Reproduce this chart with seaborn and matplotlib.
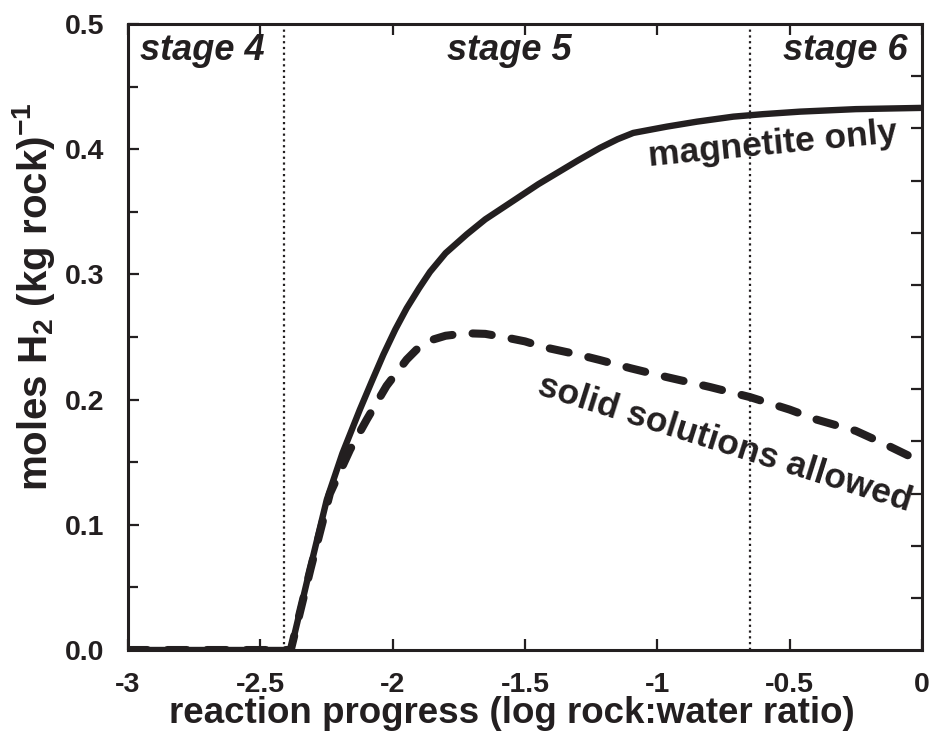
import matplotlib
matplotlib.use("Agg")
import matplotlib.pyplot as plt
import seaborn as sns
import pandas as pd
import numpy as np

# ---- data ----
x_magnetite = [-3.0, -2.385, -2.32, -2.249, -2.19, -2.124, -2.08, -2.035, -1.99, -1.947,
               -1.9, -1.859, -1.8, -1.72, -1.65, -1.557, -1.45, -1.3, -1.217, -1.15,
               -1.091, -0.965, -0.85, -0.713, -0.6, -0.461, -0.25, 0.0]
y_magnetite = [0.0, 0.0, 0.058, 0.120, 0.157, 0.192, 0.214, 0.236, 0.256, 0.273,
               0.289, 0.302, 0.317, 0.332, 0.344, 0.357, 0.372, 0.391, 0.401, 0.408,
               0.413, 0.418, 0.422, 0.426, 0.428, 0.430, 0.432, 0.433]

x_solidsol = [-3.0, -2.385, -2.31, -2.237, -2.161, -2.098, -2.023, -1.947, -1.9, -1.847,
              -1.8, -1.72, -1.65, -1.582, -1.5, -1.431, -1.3, -1.217, -1.1, -0.965,
              -0.8, -0.65, -0.5, -0.398, -0.25, -0.146, 0.0]
y_solidsol = [0.0, 0.0, 0.065, 0.125, 0.160, 0.184, 0.211, 0.232, 0.242, 0.248,
              0.251, 0.253, 0.2525, 0.250, 0.2465, 0.242, 0.236, 0.2316, 0.225, 0.218,
              0.210, 0.202, 0.192, 0.184, 0.175, 0.165, 0.150]

stage_bounds = [-2.41, -0.65]
stage_labels = ["stage 4", "stage 5", "stage 6"]
stage_label_x = [-2.72, -1.56, -0.29]

series_labels = ["magnetite only", "solid solutions allowed"]

x_ticks = [-3, -2.5, -2, -1.5, -1, -0.5, 0]
x_tick_labels = ["-3", "-2.5", "-2", "-1.5", "-1", "-0.5", "0"]
y_ticks = [0.0, 0.1, 0.2, 0.3, 0.4, 0.5]
y_tick_labels = ["0.0", "0.1", "0.2", "0.3", "0.4", "0.5"]

# ---- styling ----
sns.set_style("ticks")
plt.rcParams["font.family"] = ["Liberation Sans", "DejaVu Sans"]
plt.rcParams["font.weight"] = "bold"
plt.rcParams["mathtext.fontset"] = "custom"
plt.rcParams["mathtext.rm"] = "Liberation Sans:bold"
plt.rcParams["mathtext.bf"] = "Liberation Sans:bold"
plt.rcParams["mathtext.it"] = "Liberation Sans:bold:italic"

INK = "#231f20"

df_mag = pd.DataFrame({"x": x_magnetite, "y": y_magnetite})
df_ss = pd.DataFrame({"x": x_solidsol, "y": y_solidsol})

fig = plt.figure(figsize=(9.34, 7.37), dpi=100)
ax = fig.add_axes([128 / 934, 87 / 737, 794 / 934, 626 / 737])

sns.lineplot(data=df_mag, x="x", y="y", ax=ax, color=INK, lw=4.6,
             estimator=None, sort=False, solid_capstyle="round",
             solid_joinstyle="round")
sns.lineplot(data=df_ss, x="x", y="y", ax=ax, color=INK, lw=5.8,
             estimator=None, sort=False, dash_capstyle="round",
             dash_joinstyle="round")
ax.lines[-1].set_dashes((2.4, 2.5))

for xb in stage_bounds:
    ax.axvline(xb, color=INK, lw=1.6, ls=(0, (1, 1.6)))

for lab, xs in zip(stage_labels, stage_label_x):
    ax.text(xs, 0.479, lab, ha="center", va="center", fontsize=26,
            fontweight="bold", fontstyle="italic", color=INK)

ax.text(-0.565, 0.404, series_labels[0], ha="center", va="center",
        fontsize=25.5, fontweight="bold", rotation=5.5, color=INK,
        rotation_mode="anchor")
ax.text(-0.745, 0.165, series_labels[1], ha="center", va="center",
        fontsize=25.5, fontweight="bold", rotation=-17.5, color=INK,
        rotation_mode="anchor")

ax.set_xlim(-3, 0)
ax.set_ylim(0, 0.5)
ax.set_xticks(x_ticks)
ax.set_xticklabels(x_tick_labels)
ax.set_yticks(y_ticks)
ax.set_yticklabels(y_tick_labels)
ax.set_yticks(np.arange(0.05, 0.5, 0.1), minor=True)

ax.tick_params(axis="both", which="both", direction="in", colors=INK,
               labelsize=20.5, width=1.6, length=8,
               top=True, right=False)
ax.tick_params(axis="y", which="both", pad=17)
ax.tick_params(axis="x", which="both", pad=16)
ax.tick_params(axis="y", which="minor", length=7)
for lbl in ax.get_xticklabels() + ax.get_yticklabels():
    lbl.set_fontweight("bold")

for s in ax.spines.values():
    s.set_linewidth(2.2)
    s.set_color(INK)

# right-hand axis: 12 equal tick intervals, unlabeled
ax2 = ax.twinx()
ax2.set_ylim(0, 12)
ax2.set_yticks(range(1, 12))
ax2.set_yticklabels([])
ax2.tick_params(axis="y", direction="in", length=8, width=1.6, colors=INK)
for s in ax2.spines.values():
    s.set_visible(False)

ax.set_xlabel("reaction progress (log rock:water ratio)", fontsize=26.5,
              fontweight="bold", color=INK, va="top")
ax.xaxis.set_label_coords(0.483, -0.074)
ax.set_ylabel(r"moles H$_{\mathbf{2}}$ (kg rock)$^{\mathbf{-1}}$", fontsize=29,
              fontweight="bold", color=INK)
ax.yaxis.set_label_coords(-0.09, 0.565)

fig.savefig("out.png", dpi=100)
